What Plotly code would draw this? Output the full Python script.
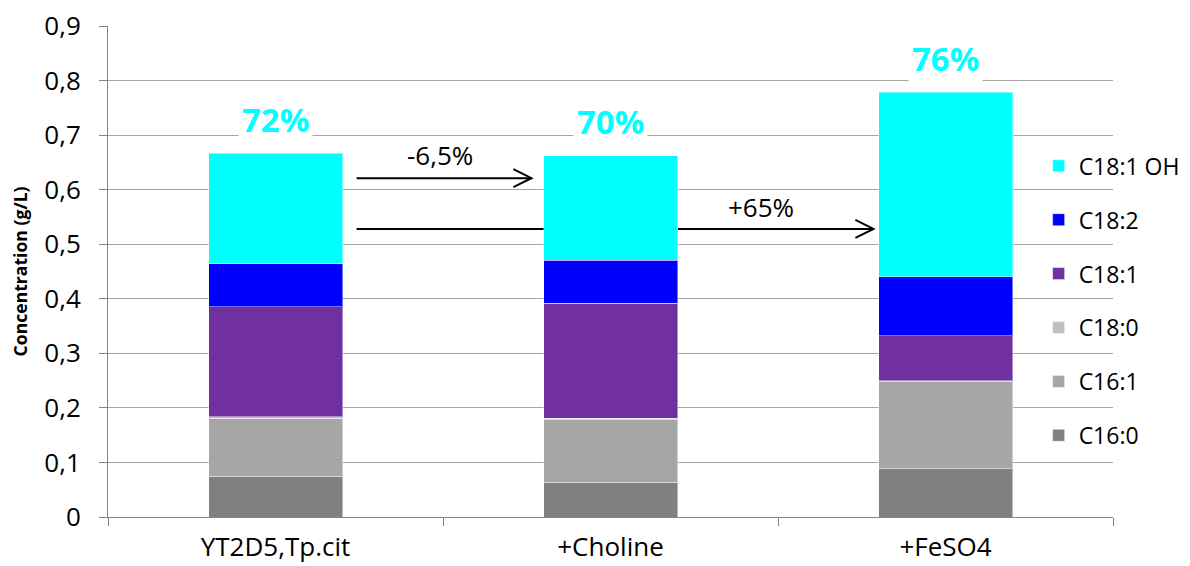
import plotly.graph_objects as go

# ---- data ----
categories = ["YT2D5,Tp.cit", "+Choline", "+FeSO4"]
series_names = ["C16:0", "C16:1", "C18:0", "C18:1", "C18:2", "C18:1 OH"]
c16_0 = [0.075, 0.064, 0.088]
c16_1 = [0.106, 0.114, 0.160]
c18_0 = [0.003, 0.003, 0.002]
c18_1 = [0.201, 0.211, 0.082]
c18_2 = [0.079, 0.079, 0.108]
c18_1_oh = [0.203, 0.191, 0.339]
series_values = [c16_0, c16_1, c18_0, c18_1, c18_2, c18_1_oh]
series_colors = ["#808080", "#A6A6A6", "#BFBFBF", "#7030A0", "#0000FF", "#00FFFF"]

pct_labels = ["72%", "70%", "76%"]

ytick_vals = [0, 0.1, 0.2, 0.3, 0.4, 0.5, 0.6, 0.7, 0.8, 0.9]
ytick_text = ["0", "0,1", "0,2", "0,3", "0,4", "0,5", "0,6", "0,7", "0,8", "0,9"]

# comparison arrows: (x_start, x_end, y, label, label_x, label_y)
arrow_specs = [
    (0.242, 0.764, 0.621, "-6,5%", 0.49, 0.663),
    (0.242, 1.785, 0.528, "+65%", 1.45, 0.568),
]

FONT = "Open Sans"

fig = go.Figure()
n = len(series_names)
for i, (name, vals, col) in enumerate(zip(series_names, series_values, series_colors)):
    fig.add_trace(go.Bar(
        x=categories, y=vals, name=name, legendgroup=name, legendrank=n - i,
        marker=dict(color=col, line=dict(color="rgba(255,255,255,0.45)", width=1)),
        width=0.4,
    ))

totals = [sum(v) for v in zip(*series_values)]
for cat, tot, lab in zip(categories, totals, pct_labels):
    fig.add_annotation(x=cat, y=tot, text="<b>%s</b>" % lab, showarrow=False,
                       yanchor="middle", yshift=34, bgcolor="white", borderpad=3,
                       font=dict(family=FONT, size=33, color="#00FFFF"))

head_dx = 0.054
head_dy = 0.0165
for x0, x1, y, lab, lx, ly in arrow_specs:
    fig.add_shape(type="line", xref="x", yref="y", x0=x0, x1=x1, y0=y, y1=y,
                  line=dict(color="black", width=2), layer="between")
    path = "M %f,%f L %f,%f L %f,%f" % (x1 - head_dx, y + head_dy, x1, y, x1 - head_dx, y - head_dy)
    fig.add_shape(type="path", xref="x", yref="y", path=path,
                  line=dict(color="black", width=2), layer="between")
    fig.add_annotation(x=lx, y=ly, text=lab, showarrow=False, xref="x", yref="y",
                       font=dict(family=FONT, size=26, color="black"))

fig.add_annotation(xref="paper", yref="paper", x=-0.0876, y=0.5, text="<b>Concentration (g/L)</b>",
                   textangle=-90, showarrow=False, xanchor="center", yanchor="middle",
                   font=dict(family=FONT, size=17.6, color="black"))

fig.update_layout(
    width=1210, height=558,
    margin=dict(l=100, r=105, t=18, b=49),
    barmode="stack",
    plot_bgcolor="white", paper_bgcolor="white",
    font=dict(family=FONT, size=23, color="black"),
    legend=dict(x=0.926, xanchor="left", y=0.759, yanchor="top",
                traceorder="grouped", tracegroupgap=21,
                font=dict(family=FONT, size=23, color="black"),
                bgcolor="rgba(0,0,0,0)"),
    showlegend=True,
)
fig.update_xaxes(showline=True, linecolor="#868686", linewidth=1, automargin=False,
                 ticks="outside", ticklen=8, tickcolor="#868686", tickson="boundaries",
                 ticklabelstandoff=7, ticklabeloverflow="allow",
                 showgrid=False, tickfont=dict(family=FONT, size=26, color="black"))
fig.update_yaxes(range=[0, 0.9], tickvals=ytick_vals, ticktext=ytick_text, automargin=False,
                 showline=True, linecolor="#868686", linewidth=1,
                 ticks="outside", ticklen=8, tickcolor="#868686",
                 showgrid=True, gridcolor="#A6A6A6", gridwidth=1, zeroline=False,
                 ticklabelstandoff=13, ticklabeloverflow="allow",
                 tickfont=dict(family=FONT, size=26, color="black"))

fig.write_html("out.html")
